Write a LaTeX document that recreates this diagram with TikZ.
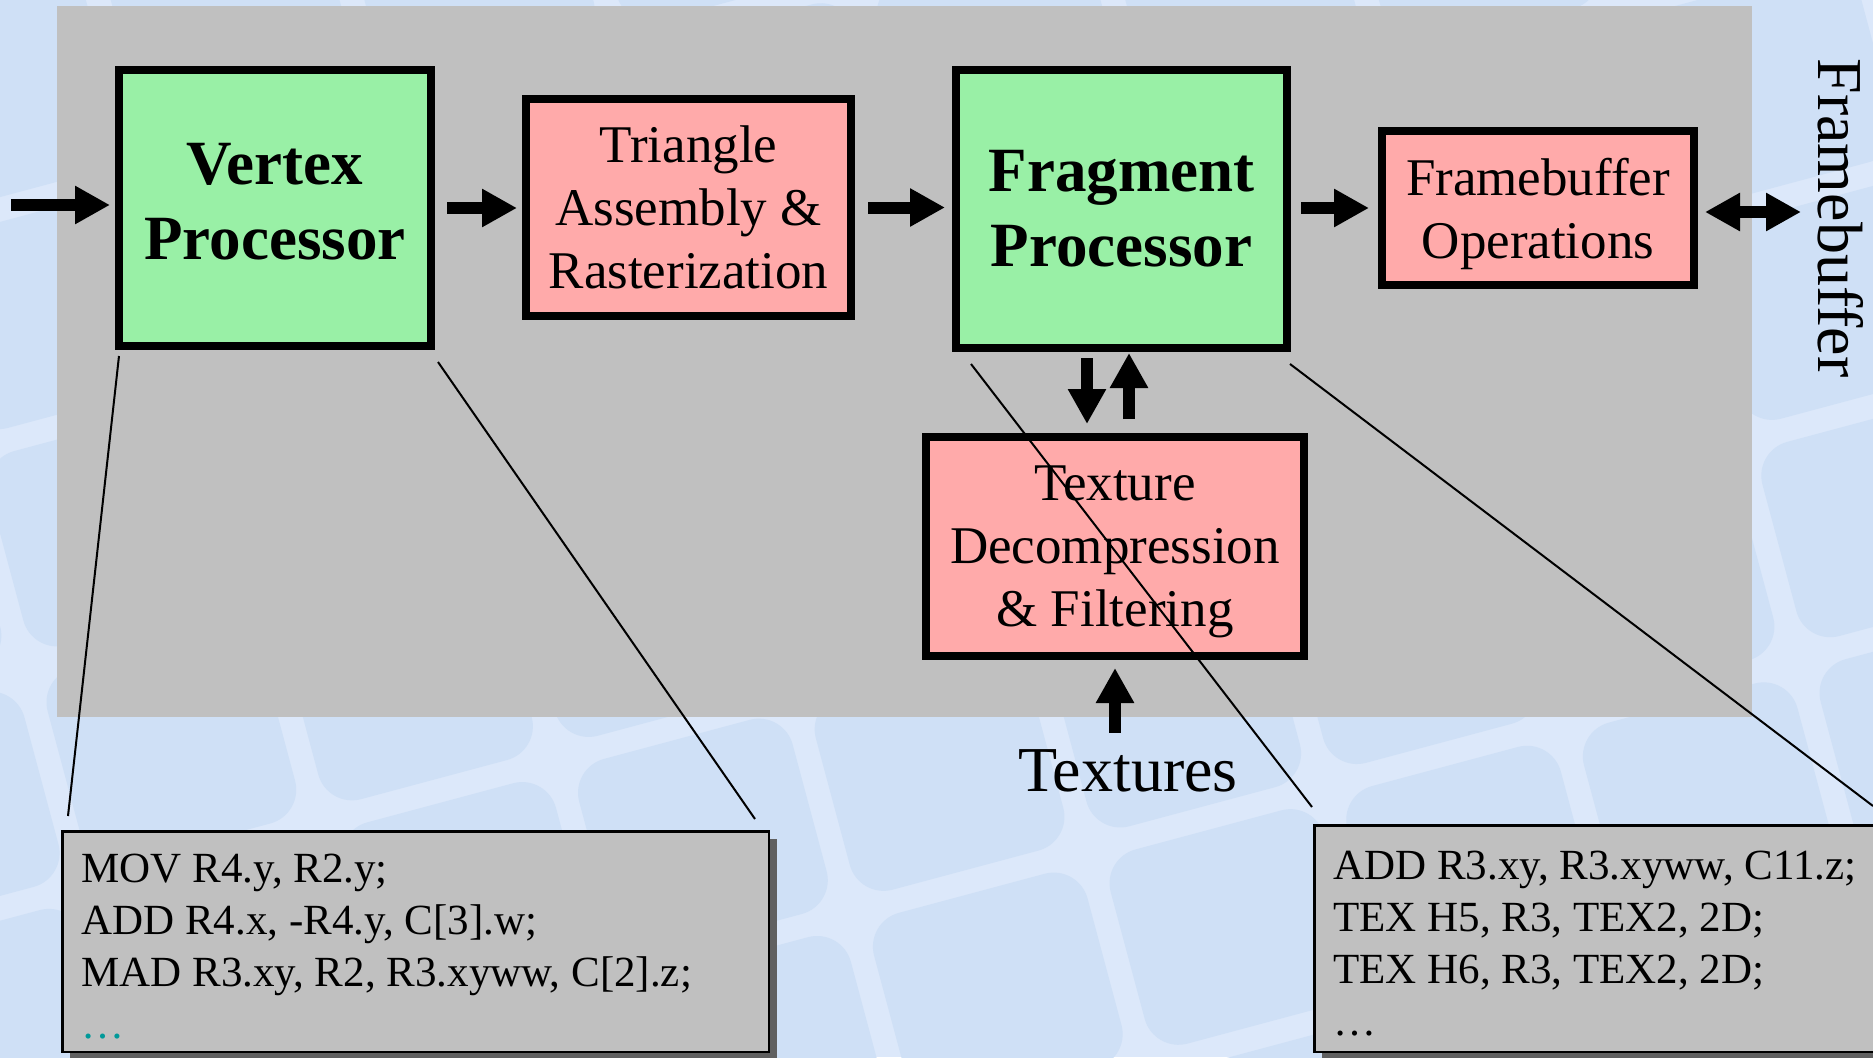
\documentclass[tikz,border=0pt]{standalone}
\usepackage{fontspec}
\setmainfont{Liberation Serif}
\usetikzlibrary{arrows.meta,shadows}

\definecolor{tileblue}{RGB}{207,224,246}
\definecolor{gapblue}{RGB}{220,232,250}
\definecolor{panelgray}{RGB}{192,192,192}
\definecolor{stagegreen}{RGB}{153,240,166}
\definecolor{stagepink}{RGB}{255,170,170}
\definecolor{shadowgray}{RGB}{96,96,96}
\definecolor{dotteal}{RGB}{0,153,153}

\tikzset{
  stage/.style={draw=black, line width=8pt, inner sep=0pt, align=center},
  progstage/.style={stage, fill=stagegreen, font=\fontsize{63}{75}\selectfont\bfseries},
  fixedstage/.style={stage, fill=stagepink, text depth=-6pt, font=\fontsize{53}{63}\selectfont},
  codebox/.style={draw=black, line width=2.5pt, fill=panelgray, align=flush left,
    inner xsep=19pt, inner ysep=0pt, text depth=146pt,
    font=\fontsize{43}{52}\selectfont,
    drop shadow={shadow xshift=8pt, shadow yshift=-8pt, opacity=1, fill=shadowgray}},
  flow/.style={line width=12pt, -{Triangle[length=35pt,width=36pt]}},
  flowboth/.style={line width=12pt, {Triangle[length=35pt,width=36pt]}-{Triangle[length=35pt,width=36pt]}},
  callout/.style={line width=2pt},
  biglabel/.style={font=\fontsize{64}{76}\selectfont, inner sep=0pt},
}

\begin{document}
\begin{tikzpicture}[x=1pt,y=-1pt]
\useasboundingbox (0,0) rectangle (1873,1057);
\clip (0,0) rectangle (1873,1057);

% tiled backdrop
\fill[gapblue] (0,0) rectangle (1873,1057);
\begin{scope}[shift={(1087,850)}, rotate=15]
  \foreach \i in {-8,...,6}{
    \foreach \j in {-8,...,6}{
      \fill[tileblue, rounded corners=35pt]
        (\i*245+12, \j*225+12) rectangle (\i*245+233, \j*225+213);
    }
  }
\end{scope}

% pipeline panel
\fill[panelgray] (57,6) rectangle (1752,717);

% pipeline stages
\node[progstage, text depth=14pt, minimum width=312pt, minimum height=276pt] (vp) at (275,208) {Vertex\\Processor};
\node[fixedstage, minimum width=325pt, minimum height=217pt] (tri) at (688.5,207.5) {Triangle\\Assembly \&\\Rasterization};
\node[progstage, minimum width=331pt, minimum height=278pt] (frag) at (1121.5,209) {Fragment\\Processor};
\node[fixedstage, minimum width=312pt, minimum height=154pt] (fbo) at (1538,208) {Framebuffer\\Operations};
\node[fixedstage, text depth=-9pt, minimum width=378pt, minimum height=219pt] (tex) at (1115,546.5) {Texture\\Decompression\\\& Filtering};

\node[biglabel, anchor=base] (texlbl) at (1128,791) {Textures};
\node[biglabel, rotate=-90] (fblbl) at (1841,218) {Framebuffer};

% data flow
\coordinate (src) at (11,205);
\draw[flow, shorten >=5pt] (src) -- (src -| vp.west);
\draw[flow, shorten <=12pt, shorten >=5pt] (vp.east) -- (vp.east -| tri.west);
\draw[flow, shorten <=13pt, shorten >=7pt] (tri.east) -- (tri.east -| frag.west);
\draw[flow, shorten <=10pt, shorten >=9pt] (fbo.west -| frag.east) -- (fbo.west);
\coordinate (fbout) at (1801,212);
\draw[flowboth, shorten <=7pt] (fbo.east |- fbout) -- (fbout);

\coordinate (fetch) at ([shift={(-34.5,0)}]frag.south);
\coordinate (reply) at ([shift={(7.5,0)}]frag.south);
\draw[flow, shorten <=6pt, shorten >=9pt] (fetch) -- (fetch |- tex.north);
\draw[flow, shorten <=14pt, shorten >=1pt] (reply |- tex.north) -- (reply);
\draw[flow, shorten <=16pt, shorten >=8pt] (tex.south |- texlbl.north) -- (tex.south);

% program listings
\node[codebox, minimum width=706.5pt, minimum height=220.5pt, text width=668.5pt] (vcode) at (415.5,941.5)
  {MOV R4.y, R2.y;\\
   ADD R4.x, -R4.y, C[3].w;\\
   MAD R3.xy, R2, R3.xyww, C[2].z;\\
   \textcolor{dotteal}{…}};
\node[codebox, minimum width=597.5pt, minimum height=226.5pt, text width=559.5pt] (fcode) at (1613,938.5)
  {ADD R3.xy, R3.xyww, C11.z;\\
   TEX H5, R3, TEX2, 2D;\\
   TEX H6, R3, TEX2, 2D;\\
   …};

% callout lines
\draw[callout] ([shift={(4,6)}]vp.south west) -- ([shift={(7,-14)}]vcode.north west);
\draw[callout] ([shift={(3,12)}]vp.south east) -- ([shift={(-15,-11)}]vcode.north east);
\draw[callout] ([shift={(19,12)}]frag.south west) -- ([shift={(-1,-17)}]fcode.north west);
\coordinate (edge) at (1873,806);
\draw[callout] ([shift={(-1,12)}]frag.south east) -- (edge);
\end{tikzpicture}
\end{document}
